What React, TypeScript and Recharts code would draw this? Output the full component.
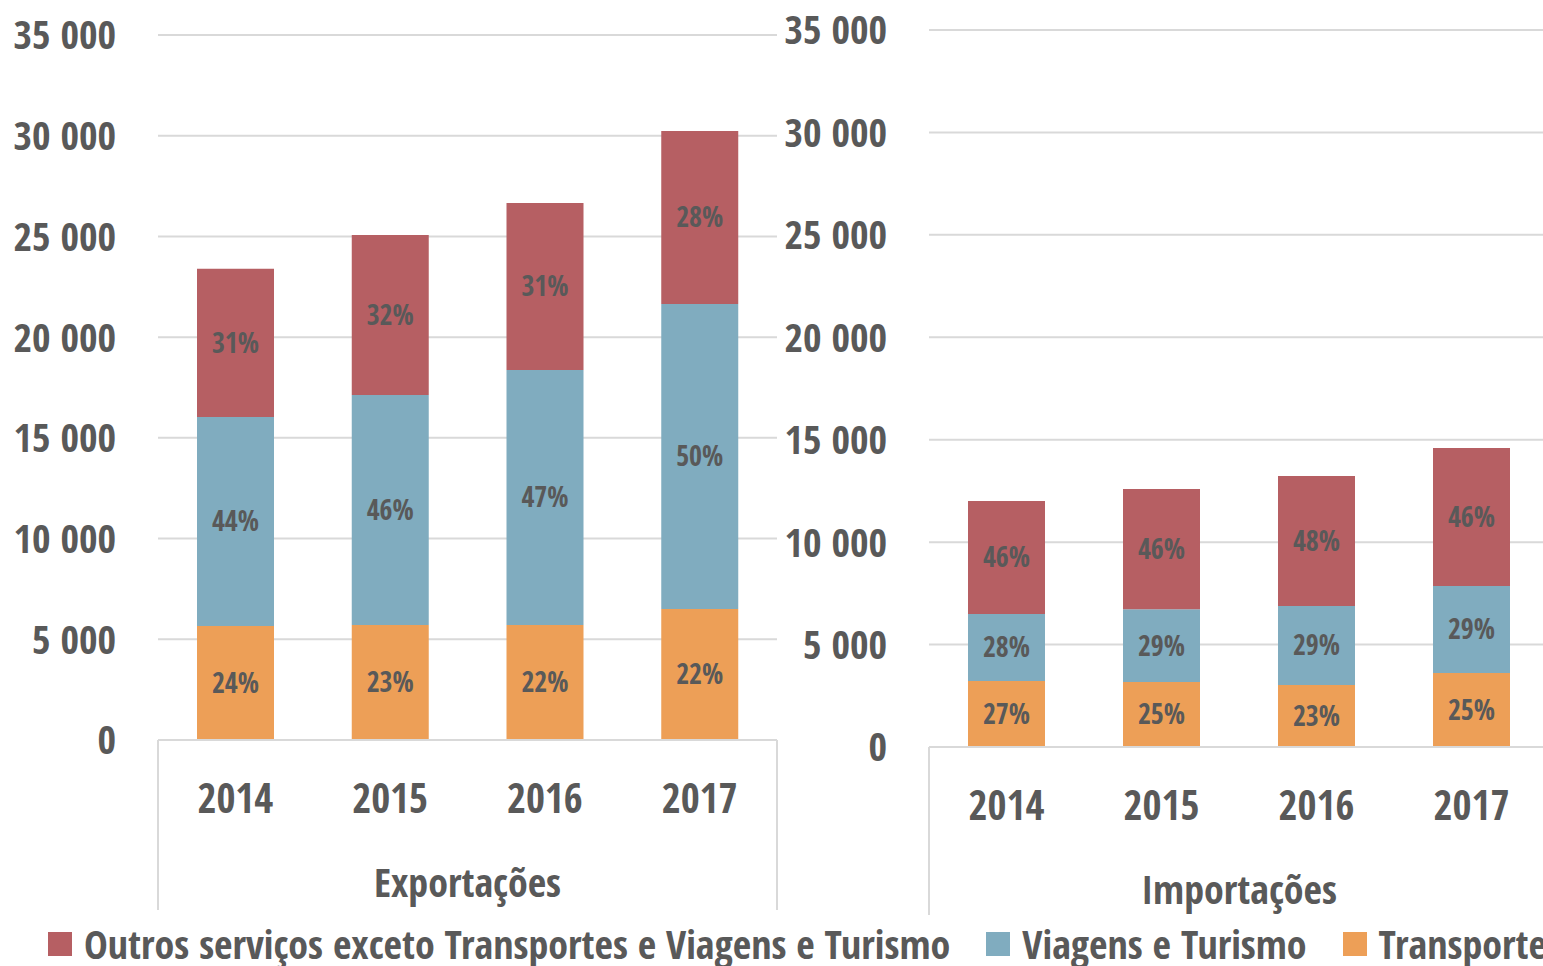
import { Bar, BarChart, CartesianGrid, LabelList, XAxis, YAxis } from "recharts";

const YEARS = ["2014", "2015", "2016", "2017"];

// Exportações
const EXP_TRANSPORTES = [5660, 5710, 5710, 6500];
const EXP_VIAGENS = [10380, 11420, 12660, 15150];
const EXP_OUTROS = [7350, 7940, 8290, 8590];
const EXP_PCT_TRANSPORTES = ["24%", "23%", "22%", "22%"];
const EXP_PCT_VIAGENS = ["44%", "46%", "47%", "50%"];
const EXP_PCT_OUTROS = ["31%", "32%", "31%", "28%"];

// Importações (right panel)
const IMP_TRANSPORTES = [3220, 3170, 3030, 3610];
const IMP_VIAGENS = [3270, 3560, 3850, 4250];
const IMP_OUTROS = [5520, 5860, 6350, 6730];
const IMP_PCT_TRANSPORTES = ["27%", "25%", "23%", "25%"];
const IMP_PCT_VIAGENS = ["28%", "29%", "29%", "29%"];
const IMP_PCT_OUTROS = ["46%", "46%", "48%", "46%"];

const Y_TICKS = [0, 5000, 10000, 15000, 20000, 25000, 30000, 35000];

const SERIES = [
  { key: "outros", label: "Outros serviços exceto Transportes e Viagens e Turismo", color: "#B65F63" },
  { key: "viagens", label: "Viagens e Turismo", color: "#80ACBF" },
  { key: "transportes", label: "Transportes", color: "#ED9F57" },
];

const FONT = "'Open Sans Condensed', 'Open Sans', 'Liberation Sans Narrow', sans-serif";
const TEXT = "#595959";
const GRID = "#D9D9D9";
const txt = { fontFamily: FONT, fontWeight: 700, fontStretch: "75%" as const, fill: TEXT };

function buildRows(t: number[], v: number[], o: number[], pt: string[], pv: string[], po: string[]) {
  return YEARS.map((year, i) => ({
    year,
    transportes: t[i],
    viagens: v[i],
    outros: o[i],
    pT: pt[i],
    pV: pv[i],
    pO: po[i],
  }));
}

const fmt = (n: number) => String(n).replace(/\B(?=(\d{3})+(?!\d))/g, " ");

interface PanelProps {
  data: ReturnType<typeof buildRows>;
  title: string;
  left: number;
  width: number;
  top: number;
  plotHeight: number;
  yAxisWidth: number;
  xAxisHeight: number;
  plotWidth: number;
}

function Panel({ data, title, left, width, top, plotHeight, yAxisWidth, xAxisHeight, plotWidth }: PanelProps) {
  const band = plotWidth / YEARS.length;
  const height = top + plotHeight + xAxisHeight + 2;

  const xTick = (props: any) => {
    const { x, y, payload, index } = props;
    return (
      <g>
        <text x={x} y={y + 58} dy="0.36em" textAnchor="middle" fontSize={41} style={txt}>
          {payload.value}
        </text>
        {index === 0 && (
          <>
            <line x1={x - band / 2} x2={x - band / 2} y1={y} y2={y + xAxisHeight} stroke={GRID} strokeWidth={2} />
            <text x={x - band / 2 + plotWidth / 2} y={y + 143} dy="0.36em" textAnchor="middle" fontSize={40} style={txt}>
              {title}
            </text>
          </>
        )}
        {index === YEARS.length - 1 && (
          <line x1={x + band / 2} x2={x + band / 2} y1={y} y2={y + xAxisHeight} stroke={GRID} strokeWidth={2} />
        )}
      </g>
    );
  };

  const yTick = (props: any) => {
    const { x, y, payload } = props;
    return (
      <text x={x - 42} y={y} dy="0.36em" textAnchor="end" fontSize={40} style={txt}>
        {fmt(payload.value)}
      </text>
    );
  };

  const label = (dataKey: string) => (
    <LabelList dataKey={dataKey} position="center" fontSize={28} style={txt} />
  );

  return (
    <div style={{ position: "absolute", left, top: 0 }}>
      <BarChart
        width={width}
        height={height}
        data={data}
        margin={{ top, right: width - yAxisWidth - plotWidth, bottom: 2, left: 0 }}
        barSize={77}
      >
        <CartesianGrid vertical={false} stroke={GRID} strokeWidth={2} />
        <XAxis
          dataKey="year"
          height={xAxisHeight}
          tickLine={false}
          tickSize={0}
          tickMargin={0}
          axisLine={{ stroke: GRID, strokeWidth: 2 }}
          tick={xTick}
          interval={0}
        />
        <YAxis
          width={yAxisWidth}
          domain={[0, 35000]}
          ticks={Y_TICKS}
          axisLine={false}
          tickLine={false}
          tickSize={0}
          tickMargin={0}
          tick={yTick}
          interval={0}
        />
        <Bar dataKey="transportes" stackId="s" fill="#ED9F57" isAnimationActive={false}>
          {label("pT")}
        </Bar>
        <Bar dataKey="viagens" stackId="s" fill="#80ACBF" isAnimationActive={false}>
          {label("pV")}
        </Bar>
        <Bar dataKey="outros" stackId="s" fill="#B65F63" isAnimationActive={false}>
          {label("pO")}
        </Bar>
      </BarChart>
    </div>
  );
}

export default function App() {
  const exp = buildRows(EXP_TRANSPORTES, EXP_VIAGENS, EXP_OUTROS, EXP_PCT_TRANSPORTES, EXP_PCT_VIAGENS, EXP_PCT_OUTROS);
  const imp = buildRows(IMP_TRANSPORTES, IMP_VIAGENS, IMP_OUTROS, IMP_PCT_TRANSPORTES, IMP_PCT_VIAGENS, IMP_PCT_OUTROS);

  return (
    <div
      style={{
        position: "absolute",
        left: 0,
        top: 0,
        width: 1543,
        height: 966,
        overflow: "hidden",
        background: "#fff",
      }}
    >
      <Panel data={exp} title="Exportações" left={0} width={782} top={35} plotHeight={705} yAxisWidth={158} xAxisHeight={170} plotWidth={619} />
      <Panel data={imp} title="Importações" left={780} width={772} top={30} plotHeight={717} yAxisWidth={149} xAxisHeight={168} plotWidth={620} />
      <div
        style={{
          position: "absolute",
          left: 48,
          top: 922,
          display: "flex",
          alignItems: "center",
          whiteSpace: "nowrap",
          fontFamily: FONT,
          fontWeight: 700,
          fontStretch: "75%",
          fontSize: 40,
          lineHeight: "44px",
          color: TEXT,
        }}
      >
        {SERIES.map((s, i) => (
          <div key={s.key} style={{ display: "flex", alignItems: "center", marginLeft: i === 0 ? 0 : 36 }}>
            <span style={{ display: "inline-block", width: 24, height: 24, background: s.color, marginRight: 12 }} />
            <span>{s.label}</span>
          </div>
        ))}
      </div>
    </div>
  );
}
